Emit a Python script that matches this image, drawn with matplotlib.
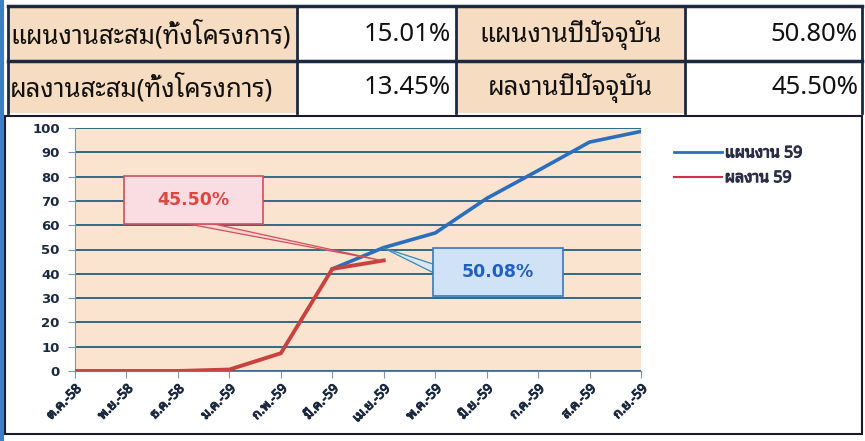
import matplotlib
matplotlib.use("Agg")
import matplotlib.pyplot as plt
from matplotlib import font_manager
from matplotlib.ft2font import FT2Font
from matplotlib.patches import Rectangle, Polygon
from matplotlib.lines import Line2D
import matplotlib.patheffects as pe

# ---------------- data ----------------
months = ["ต.ค.-58", "พ.ย.-58", "ธ.ค.-58", "ม.ค.-59", "ก.พ.-59", "มี.ค.-59",
          "เม.ย.-59", "พ.ค.-59", "มิ.ย.-59", "ก.ค.-59", "ส.ค.-59", "ก.ย.-59"]
plan_59 = [None, None, None, None, None, 42.0, 50.8, 56.8, 71.0, 82.5, 94.2, 98.6]
result_59 = [0.0, 0.0, 0.0, 0.6, 7.3, 42.0, 45.5]
plan_label = "50.08%"
result_label = "45.50%"
series_names = ["แผนงาน 59", "ผลงาน 59"]
table_labels = [["แผนงานสะสม(ทั้งโครงการ)", "แผนงานปีปัจจุบัน"],
                ["ผลงานสะสม(ทั้งโครงการ)", "ผลงานปีปัจจุบัน"]]
table_values = [["15.01%", "50.80%"],
                ["13.45%", "45.50%"]]
yticks = list(range(0, 101, 10))

# ---------------- fonts ----------------
def find_thai_fonts():
    names = []
    for f in font_manager.fontManager.ttflist:
        try:
            cm = FT2Font(f.fname).get_charmap()
        except Exception:
            continue
        if 0x0E01 in cm and f.name not in names:
            names.append(f.name)
    return names

thai = find_thai_fonts()
pref = [n for n in thai if "Noto Sans Thai" in n] + thai
FAM = (pref[:1] if pref else []) + ["DejaVu Sans"]
plt.rcParams["font.family"] = FAM

W, H = 865, 441
fig = plt.figure(figsize=(W / 100, H / 100), dpi=100)

# background overlay in pixel coords
bg = fig.add_axes([0, 0, 1, 1], zorder=0)
bg.set_xlim(0, W)
bg.set_ylim(H, 0)
bg.axis("off")

navy = "#1c2a40"
peach = "#f6dcc0"

# table
col_x = [8, 297, 456, 685, 862]
row_y = [6, 61, 113]
for r in range(2):
    for c in range(4):
        x0, x1 = col_x[c], col_x[c + 1]
        y0, y1 = row_y[r], row_y[r + 1]
        fc = peach if c % 2 == 0 else "white"
        bg.add_patch(Rectangle((x0, y0), x1 - x0, y1 - y0, facecolor=fc,
                               edgecolor="none", zorder=1))
for y in row_y[:2]:
    bg.plot([col_x[0], col_x[-1]], [y, y], color=navy, lw=2.5, zorder=3)
for x in col_x:
    bg.plot([x, x], [row_y[0], row_y[-1]], color=navy, lw=2.0, zorder=3)
bg.plot([2, 2], [0, H], color="#3a7fc8", lw=3, zorder=3)

tfs = 18.5
for r in range(2):
    ymid = (row_y[r] + row_y[r + 1]) / 2 + 1
    bg.text(col_x[0] + 2, ymid, table_labels[r][0], fontsize=tfs, ha="left",
            va="center", color="#111111", zorder=4)
    bg.text(col_x[2] - 5, ymid, table_values[r][0], fontsize=tfs, ha="right",
            va="center", color="#111111", zorder=4)
    bg.text((col_x[2] + col_x[3]) / 2, ymid, table_labels[r][1], fontsize=tfs,
            ha="center", va="center", color="#111111", zorder=4)
    bg.text(col_x[4] - 4, ymid, table_values[r][1], fontsize=tfs, ha="right",
            va="center", color="#111111", zorder=4)

# chart panel
bg.add_patch(Rectangle((5, 116), 857, 318, facecolor="white",
                       edgecolor="#1a1a2a", lw=1.5, zorder=1))

# ---------------- chart ----------------
ax = fig.add_axes([75 / W, 1 - 371 / H, (641 - 75) / W, (371 - 128) / H], zorder=2)
ax.set_facecolor("#fbe4cf")
x = list(range(len(months)))
blue = "#2a6ebd"
red = "#c8423f"
px = [i for i, v in enumerate(plan_59) if v is not None]
pv = [v for v in plan_59 if v is not None]
ax.plot(px, pv, color=blue, lw=2.6, solid_joinstyle="round", zorder=3)
ax.plot(range(len(result_59)), result_59, color=red, lw=2.8, zorder=4)

bold = [pe.withStroke(linewidth=0.8, foreground=navy)]
ax.set_xlim(0, len(months) - 1)
ax.set_ylim(0, 100)
ax.set_yticks(yticks)
ax.set_xticks(x)
ax.set_xticklabels(months, rotation=45, ha="right", rotation_mode="anchor",
                   fontsize=9.5, fontweight="bold", color=navy)
for t in ax.get_xticklabels():
    t.set_path_effects(bold)
ax.set_yticklabels([str(t) for t in yticks], fontsize=9.5, fontweight="bold",
                   color=navy, family="DejaVu Sans")
ax.grid(axis="y", color="#2f6a86", lw=1.4, zorder=1)
ax.set_axisbelow(True)
for s in ["top", "right"]:
    ax.spines[s].set_visible(False)
ax.spines["left"].set_color("#7f93b0")
ax.spines["bottom"].set_color("#5f7fb0")
ax.tick_params(axis="both", length=5, color="#7f93b0", pad=3)
ax.tick_params(axis="y", pad=6)

# callout: result (red)
ri = len(result_59) - 1
ax.add_patch(Polygon([(2.2, 60.5), (2.7, 60.5), (ri - 0.05, result_59[ri])],
                     closed=True, facecolor="#f7d3d3", edgecolor="#d0505a",
                     lw=0.9, zorder=5))
ax.add_patch(Rectangle((0.95, 60.5), 2.7, 19.7, facecolor="#f9dde2",
                       edgecolor="#d0505a", lw=1.2, zorder=6))
ax.text(0.95 + 1.35, 70.4, result_label, color="#e04540", fontsize=12.5,
        fontweight="bold", ha="center", va="center", zorder=7,
        family="DejaVu Sans")

# callout: plan (blue)
pi = 6
ax.add_patch(Polygon([(6.96, 40.5), (6.96, 44.0), (pi - 0.02, plan_59[pi])],
                     closed=True, facecolor="#d8e6f5", edgecolor="#3a8ab0",
                     lw=0.9, zorder=5))
ax.add_patch(Rectangle((6.96, 30.9), 2.52, 19.7, facecolor="#cfe2f6",
                       edgecolor="#3a78c0", lw=1.2, zorder=6))
ax.text(6.96 + 1.26, 40.8, plan_label, color="#2060c0", fontsize=12.5,
        fontweight="bold", ha="center", va="center", zorder=7,
        family="DejaVu Sans")

# legend
handles = [Line2D([], [], color=blue, lw=2), Line2D([], [], color="#d03050", lw=1.5)]
leg = fig.legend(handles, series_names, loc="upper left",
                 bbox_to_anchor=(660 / W, 1 - 131 / H), frameon=False,
                 handlelength=3.0, handletextpad=0.15, labelspacing=0.55,
                 prop={"size": 11.5, "weight": "bold", "family": FAM})
for t in leg.get_texts():
    t.set_color("#2a2f45")
    t.set_path_effects([pe.withStroke(linewidth=0.8, foreground="#2a2f45")])

fig.savefig("out.png", dpi=100)
